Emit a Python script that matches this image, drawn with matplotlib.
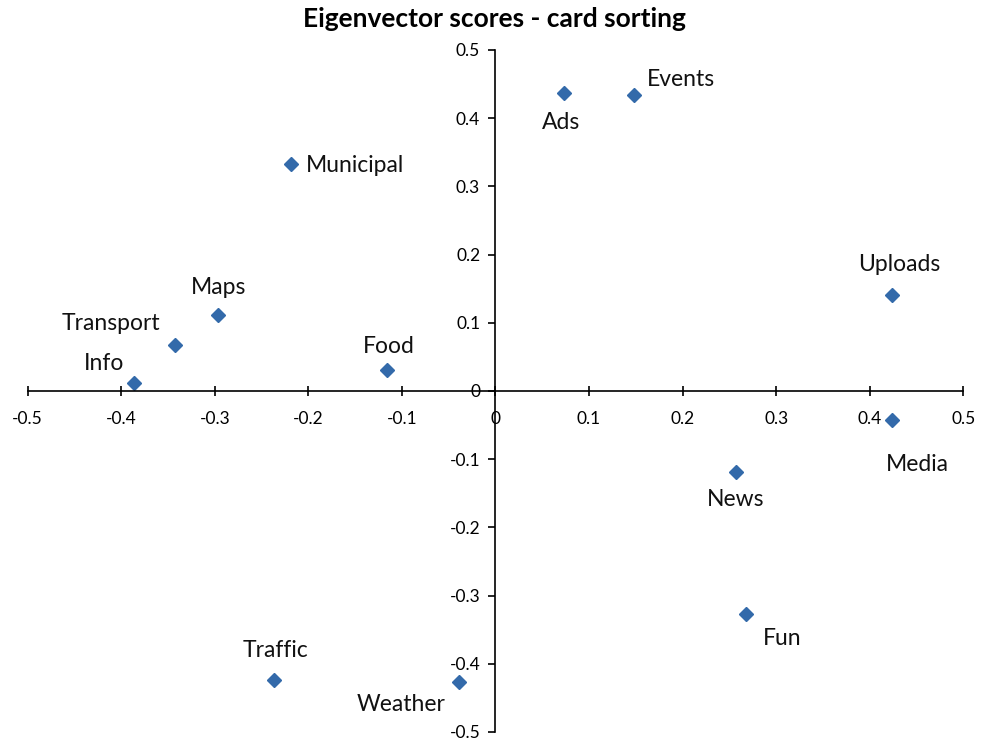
import matplotlib.pyplot as plt

# eigenvector scores
names = ["Ads", "Events", "Municipal", "Uploads", "Maps", "Transport", "Info",
         "Food", "Media", "News", "Fun", "Traffic", "Weather"]
x_scores = [0.073, 0.148, -0.219, 0.424, -0.297, -0.342, -0.386,
            -0.116, 0.424, 0.257, 0.268, -0.237, -0.039]
y_scores = [0.437, 0.434, 0.333, 0.141, 0.111, 0.067, 0.012,
            0.031, -0.043, -0.119, -0.327, -0.424, -0.427]
ticks = [-0.5, -0.4, -0.3, -0.2, -0.1, 0, 0.1, 0.2, 0.3, 0.4, 0.5]
tick_labels = ["-0.5", "-0.4", "-0.3", "-0.2", "-0.1", "0", "0.1", "0.2", "0.3", "0.4", "0.5"]

# label placement: offset in points, horizontal alignment
label_pos = {
    "Ads": ((-2, -21), "center"),
    "Events": ((9, 11), "left"),
    "Municipal": ((11, -1), "left"),
    "Uploads": ((5, 22), "center"),
    "Maps": ((1, 20), "center"),
    "Transport": ((-11, 16), "right"),
    "Info": ((-7, 14), "right"),
    "Food": ((1, 17), "center"),
    "Media": ((18, -32), "center"),
    "News": ((0, -20), "center"),
    "Fun": ((12, -18), "left"),
    "Traffic": ((1, 21), "center"),
    "Weather": ((-10, -16), "right"),
}

plt.rcParams['font.family'] = ['Lato', 'DejaVu Sans']

fig = plt.figure(figsize=(9.88, 7.45), dpi=100)
ax = fig.add_axes([0.028, 0.0175, 0.947, 0.9155])

ax.plot(x_scores, y_scores, linestyle='none', marker='D', markersize=7.5,
        color='#336AAA', markeredgecolor='#336AAA')

for n, xv, yv in zip(names, x_scores, y_scores):
    off, ha = label_pos[n]
    ax.annotate(n, (xv, yv), xytext=off, textcoords='offset points',
                ha=ha, va='center', fontsize=16.5, color='#111111')

ax.set_xlim(-0.5, 0.5)
ax.set_ylim(-0.5, 0.5)
ax.set_xticks(ticks)
ax.set_xticklabels(tick_labels)
ax.set_yticks(ticks)
ax.set_yticklabels(tick_labels)

ax.spines['left'].set_position(('data', 0))
ax.spines['bottom'].set_position(('data', 0))
ax.spines['right'].set_visible(False)
ax.spines['top'].set_visible(False)
for s in ['left', 'bottom']:
    ax.spines[s].set_linewidth(1.2)
    ax.spines[s].set_color('black')

ax.tick_params(axis='x', direction='inout', length=7, width=1.2, labelsize=12.5, pad=11)
ax.tick_params(axis='y', direction='out', length=5, width=1.2, labelsize=12.5, pad=6)

fig.suptitle("Eigenvector scores - card sorting", fontsize=19, fontweight='bold', y=0.99)

fig.savefig("out.png", dpi=100)
